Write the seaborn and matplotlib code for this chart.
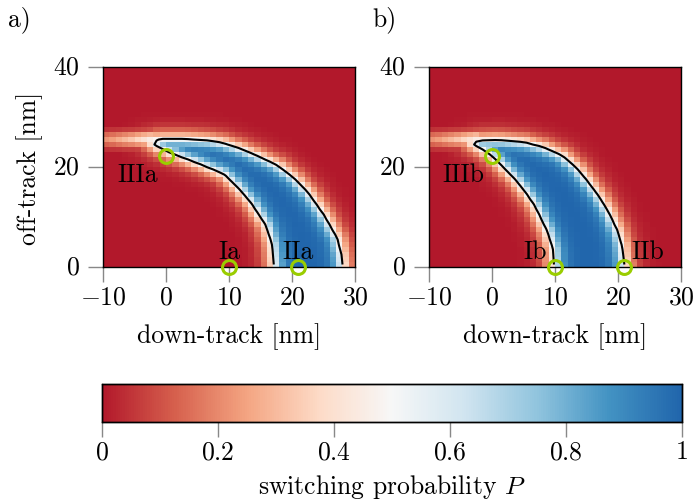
import numpy as np
import seaborn as sns
import matplotlib.pyplot as plt
from matplotlib.colors import LinearSegmentedColormap
from matplotlib.path import Path

# grid: 1 nm cells, down-track -10..30, off-track 0..40
x_edges = np.arange(-10, 31)
y_edges = np.arange(0, 41)

# P = 0.5 boundary (x, y in nm), panel a)
a_edge_x = [-2.5, -1.0, 0.8, 3.0, 6.6, 9.0, 11.9, 14.5, 17.7, 20.3, 22.5, 25.1, 27.2, 27.8, 28.0, 28.0,
            17.2, 17.2, 16.9, 15.9, 13.5, 11.5, 9.25, 5.0, 0.8, -1.2]
a_edge_y = [25.1, 25.6, 25.6, 25.6, 25.3, 24.8, 23.6, 22.2, 20.3, 17.8, 14.9, 10.3, 5.6, 2.5, 0.0, -10.0,
            -10.0, 0.0, 4.3, 8.3, 12.9, 15.8, 18.6, 20.8, 22.8, 24.0]

# panel b)
b_edge_x = [-3.0, -1.6, 1.0, 5.2, 8.0, 11.1, 13.4, 15.3, 17.0, 18.5, 19.8, 20.6, 21.0, 21.0,
            9.9, 9.9, 9.7, 8.9, 6.8, 5.2, 3.65, 1.8, -0.05, -1.6]
b_edge_y = [24.6, 25.3, 25.4, 24.9, 24.0, 22.3, 19.8, 16.9, 14.0, 10.9, 7.5, 4.3, 0.0, -10.0,
            -10.0, 0.0, 3.5, 6.9, 12.3, 15.2, 17.6, 20.0, 22.3, 23.6]

# faint band left of the tip (around y = 25 nm), peak P per column x = -10..-3
tail_x = [-10, -9, -8, -7, -6, -5, -4, -3]
tail_p = [0.22, 0.24, 0.27, 0.30, 0.33, 0.37, 0.41, 0.45]
tail_rows = [23, 24, 25, 26, 27]
tail_fall = [0.2, 0.6, 1.0, 0.65, 0.2]

# marked points and labels
a_pts_x, a_pts_y = [0, 10, 21], [22.3, 0, 0]
b_pts_x, b_pts_y = [0, 10, 21], [22.3, 0, 0]
a_labels = [("IIIa", -4.5, 18.6), ("Ia", 10.0, 3.1), ("IIa", 20.9, 3.1)]
b_labels = [("IIIb", -4.5, 18.6), ("Ib", 6.8, 3.1), ("IIb", 24.8, 3.1)]

rdbu9 = ["#b2182b", "#d6604d", "#f4a582", "#fddbc7", "#f7f7f7",
         "#d1e5f0", "#92c5de", "#4393c3", "#2166ac"]
cmap = LinearSegmentedColormap.from_list("rdbu9", rdbu9)

FS = 18.5
plt.rcParams.update({
    "font.family": "serif",
    "font.serif": ["cmr10"],
    "mathtext.fontset": "cm",
    "axes.formatter.use_mathtext": True,
    "font.size": FS,
})


def build_grid(ex, ey):
    xc = (x_edges[:-1] + x_edges[1:]) / 2
    yc = (y_edges[:-1] + y_edges[1:]) / 2
    X, Y = np.meshgrid(xc, yc)
    pts = np.column_stack([X.ravel(), Y.ravel()])
    poly = np.column_stack([ex, ey])
    inside = Path(poly).contains_points(pts)
    nxt = np.roll(poly, -1, axis=0)
    d = np.full(len(pts), np.inf)
    for p, q in zip(poly, nxt):
        seg = q - p
        t = np.clip(((pts - p) @ seg) / (seg @ seg), 0, 1)
        proj = p + t[:, None] * seg
        d = np.minimum(d, np.hypot(*(pts - proj).T))
    s = np.where(inside, d / 0.8, -d / 1.0)
    P = (1 / (1 + np.exp(-s))).reshape(X.shape)
    for tx, tp in zip(tail_x, tail_p):
        j = int(tx - x_edges[0])
        for i, f in zip(tail_rows, tail_fall):
            P[i, j] = max(P[i, j], tp * f)
    return P


fig = plt.figure(figsize=(6.97, 5.02), dpi=100)
ax_a = fig.add_axes([103 / 697, 1 - 268 / 502, 252 / 697, 200 / 502])
ax_b = fig.add_axes([429 / 697, 1 - 268 / 502, 252 / 697, 200 / 502])
cax = fig.add_axes([102 / 697, 1 - 422.5 / 502, 579.5 / 697, 38 / 502])

panels = [(ax_a, a_edge_x, a_edge_y, a_pts_x, a_pts_y, a_labels, "a)", 8),
          (ax_b, b_edge_x, b_edge_y, b_pts_x, b_pts_y, b_labels, "b)", 372)]

for k, (ax, ex, ey, px, py, labels, tag, tag_x) in enumerate(panels):
    P = build_grid(ex, ey)
    sns.heatmap(P, ax=ax, cmap=cmap, vmin=0, vmax=1, cbar=(k == 0),
                cbar_ax=cax if k == 0 else None,
                cbar_kws={"orientation": "horizontal"}, rasterized=True)
    ax.invert_yaxis()
    cx = np.arange(P.shape[1]) + 0.5
    cy = np.arange(P.shape[0]) + 0.5
    ax.contour(cx, cy, P, levels=[0.5], colors="black", linewidths=1.5)
    ax.plot(np.array(px) - x_edges[0], py, "o", ms=10, mfc="none",
            mec="#9acd00", mew=2.2, clip_on=False, zorder=5)
    for txt, tx, ty in labels:
        ax.text(tx - x_edges[0], ty, txt, ha="center", va="center", fontsize=FS)
    ax.set_xlim(0, 40)
    ax.set_ylim(0, 40)
    ax.set_xticks([0, 10, 20, 30, 40])
    ax.set_xticklabels([r"$-10$", r"$0$", r"$10$", r"$20$", r"$30$"], rotation=0)
    ax.set_yticks([0, 20, 40])
    ax.set_yticklabels([r"$0$", r"$20$", r"$40$"], rotation=0)
    ax.tick_params(length=11, width=1, color="#888888", labelsize=FS)
    ax.tick_params(axis="x", pad=2)
    ax.tick_params(axis="y", pad=6)
    for sp in ax.spines.values():
        sp.set_visible(True)
        sp.set_color("black")
        sp.set_linewidth(1.0)
    ax.set_xlabel("down-track [nm]", fontsize=FS, labelpad=10)
    fig.text(tag_x / 697, 1 - 20 / 502, tag, fontsize=FS, va="center")

ax_a.set_ylabel("off-track [nm]", fontsize=FS, labelpad=7)

cax.set_xticks([0, 0.2, 0.4, 0.6, 0.8, 1])
cax.set_xticklabels([r"$0$", r"$0.2$", r"$0.4$", r"$0.6$", r"$0.8$", r"$1$"])
cax.tick_params(length=11, width=1, color="#888888", labelsize=FS, pad=2)
cax.xaxis.set_ticks_position("bottom")
cax.set_xlabel(r"switching probability $P$", fontsize=FS, labelpad=6)
for sp in cax.spines.values():
    sp.set_visible(True)
    sp.set_color("black")
    sp.set_linewidth(1.0)

fig.savefig("out.png", dpi=100)
